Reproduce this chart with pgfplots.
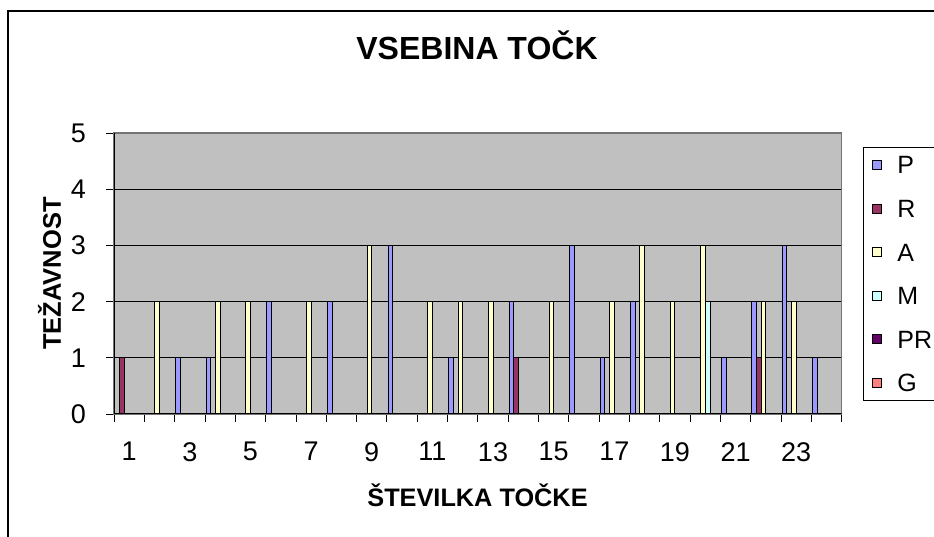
\documentclass[border=0pt]{standalone}
\usepackage{pgfplots}
\pgfplotsset{compat=1.18}
\usepackage{fontspec}
\setmainfont{Liberation Sans}
\definecolor{cP}{HTML}{9999FF}
\definecolor{cR}{HTML}{993366}
\definecolor{cA}{HTML}{FFFFCC}
\definecolor{cM}{HTML}{CCFFFF}
\definecolor{cPR}{HTML}{660066}
\definecolor{cG}{HTML}{FF8080}
\definecolor{plotbg}{HTML}{C0C0C0}
\pgfplotsset{
  sq/.style={/pgfplots/legend image code/.code={\draw[##1,draw=black,line width=0.9pt] (0pt,-4.5pt) rectangle (9pt,4.5pt);}},
  /pgfplots/ybar legend/.style={/pgfplots/legend image code/.code={\draw[##1,draw=black,line width=0.9pt] (0pt,-4.5pt) rectangle (9pt,4.5pt);}},
}
\begin{document}
\begin{tikzpicture}[x=1pt,y=1pt]
\useasboundingbox (0,0) rectangle (934,537);
\clip (0,0) rectangle (934,537);
\fill[white] (0,0) rectangle (934,537);
\draw[black,line width=1.2pt] (8,-5) -- (8,526) -- (940,526);
\begin{axis}[
  at={(114pt,123pt)}, anchor=south west,
  scale only axis, width=727.7pt, height=281pt,
  xmin=0.5, xmax=24.5, ymin=0, ymax=5,
  axis background/.style={fill=plotbg},
  axis line style={draw=gray!90!black, line width=1.5pt},
  ytick={0,1,2,3,4,5},
  ymajorgrids, grid style={black, line width=0.8pt},
  xtick={0.5,1.5,...,24.5}, xticklabels={},
  extra x ticks={1,3,...,23},
  extra x tick style={major tick length=0pt, grid=none},
  extra x tick labels={1,3,5,7,9,11,13,15,17,19,21,23},
  tick pos=left,
  tick align=outside, major tick length=8pt,
  tick style={black, line width=0.8pt},
  /pgf/number format/assume math mode=true,
  ticklabel style={font=\fontsize{27}{30}\selectfont},
  yticklabel style={inner sep=0pt, xshift=-20pt},
  xticklabel style={inner sep=0pt, yshift=-28pt},
  ybar, bar width=4.7pt,
  every axis plot/.append style={draw=black, line width=0.9pt},
  every axis plot post/.append style={sq},
  legend style={at={(1.0293,0.950)}, anchor=north west, draw=black, line width=0.9pt,
    fill=white, inner xsep=9pt, inner ysep=8.5pt, row sep=25.6pt, column sep=15pt,
    nodes={inner sep=0pt, text height=18pt, text depth=0pt, anchor=west},
    font=\fontsize{25}{28}\selectfont},
  legend cell align=left,
]
\addplot[fill=cP, bar shift=-11.75pt] coordinates {(3,1)(4,1)(6,2)(8,2)(10,3)(12,1)(14,2)(16,3)(17,1)(18,2)(21,1)(22,2)(23,3)(24,1)};
\addlegendentry{P\hspace{40pt}}
\addplot[fill=cR, bar shift=-7.05pt] coordinates {(1,1)(14,1)(22,1)};
\addlegendentry{R}
\addplot[fill=cA, bar shift=-2.35pt] coordinates {(2,2)(4,2)(5,2)(7,2)(9,3)(11,2)(12,2)(13,2)(15,2)(17,2)(18,3)(19,2)(20,3)(22,2)(23,2)};
\addlegendentry{A}
\addplot[fill=cM, bar shift=2.35pt] coordinates {(20,2)};
\addlegendentry{M}
\addlegendimage{fill=cPR, sq}
\addlegendentry{PR}
\addlegendimage{fill=cG, sq}
\addlegendentry{G}
\draw[black, line width=1.2pt] (rel axis cs:0,1) -- (rel axis cs:0,0) -- (rel axis cs:1,0);
\end{axis}
\node at (477,492) {\fontsize{32}{36}\selectfont\bfseries VSEBINA TOČK};
\node at (477.5,42) {\fontsize{25.3}{28}\selectfont\bfseries ŠTEVILKA TOČKE};
\node[rotate=90] at (49.5,263.5) {\fontsize{25.5}{28}\selectfont\bfseries TEŽAVNOST};
\end{tikzpicture}
\end{document}
